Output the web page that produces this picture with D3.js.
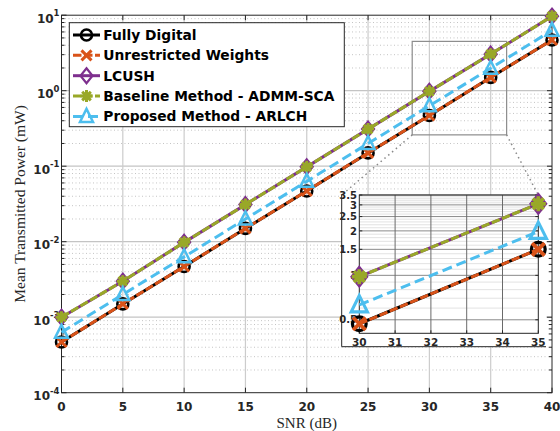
<!DOCTYPE html>
<html><head><meta charset="utf-8">
<script src="https://cdn.jsdelivr.net/npm/d3@7"></script>
<style>body{margin:0;background:#fff}svg{display:block}</style>
</head><body>
<script>
// ---------- data ----------
const snr = [0, 5, 10, 15, 20, 25, 30, 35, 40];
const fullyDigital = [0.00047, 0.0015, 0.0047, 0.015, 0.047, 0.15, 0.47, 1.5, 4.7];
const unrestricted = [0.00047, 0.0015, 0.0047, 0.015, 0.047, 0.15, 0.47, 1.5, 4.7];
const lcush = [0.001, 0.003, 0.0098, 0.031, 0.098, 0.31, 0.98, 3.05, 9.7];
const baselineAdmm = [0.001, 0.003, 0.0098, 0.031, 0.098, 0.31, 0.98, 3.05, 9.7];
const proposedArlch = [0.00063, 0.002, 0.0063, 0.02, 0.063, 0.2, 0.63, 1.98, 6.3];
const seriesNames = ["Fully Digital", "Unrestricted Weights", "LCUSH", "Baseline Method - ADMM-SCA", "Proposed Method - ARLCH"];
const xTicks = [0, 5, 10, 15, 20, 25, 30, 35, 40];
const yTickExps = [-4, -3, -2, -1, 0, 1];
const insetX = [30, 35];
const insetXTicks = [30, 31, 32, 33, 34, 35];
const insetYTicks = [0.5, 1, 1.5, 2, 2.5, 3, 3.5];
const insetYLabels = ["0.5", "1", "1.5", "2", "2.5", "3", "3.5"];
const zoomBoxX = [28.6, 36.3];
const zoomBoxY = [0.26, 4.5];

// ---------- styles ----------
const styles = [
  {color: "#000000", dash: null, marker: "circle"},
  {color: "#D95319", dash: "8.5,2.5", marker: "x"},
  {color: "#7E2F8E", dash: null, marker: "diamond"},
  {color: "#99A828", dash: "8.5,2.5", marker: "asterisk"},
  {color: "#4DBEEE", dash: "10,5", marker: "triangle"}
];
const seriesData = [fullyDigital, unrestricted, lcush, baselineAdmm, proposedArlch];

const W = 560, H = 431;
const svg = d3.select("body").append("svg").attr("width", W).attr("height", H);
const sans = "'DejaVu Sans', sans-serif";
const serif = "'Liberation Serif', 'Times New Roman', serif";
const axisColor = "#262626";

const x = d3.scaleLinear().domain([0, 40]).range([61.5, 552]);
const y = d3.scaleLog().domain([1e-4, 10]).range([392.7, 15.2]);

// ---------- grid ----------
const grid = svg.append("g");
for (let e = -4; e < 1; e++) {
  for (let k = 2; k <= 9; k++) {
    const v = k * Math.pow(10, e);
    grid.append("line").attr("x1", x(0)).attr("x2", x(40)).attr("y1", y(v)).attr("y2", y(v))
      .attr("stroke", "#c4c4c4").attr("stroke-width", 1).attr("stroke-dasharray", "1,2.5");
  }
}
yTickExps.slice(1, -1).forEach(e => {
  grid.append("line").attr("x1", x(0)).attr("x2", x(40)).attr("y1", y(Math.pow(10, e))).attr("y2", y(Math.pow(10, e)))
    .attr("stroke", "#c4c4c4").attr("stroke-width", 1.2);
});
xTicks.slice(1, -1).forEach(t => {
  grid.append("line").attr("x1", x(t)).attr("x2", x(t)).attr("y1", y(1e-4)).attr("y2", y(10))
    .attr("stroke", "#cccccc").attr("stroke-width", 1.2);
});

// ---------- zoom box ----------
svg.append("rect").attr("x", x(zoomBoxX[0])).attr("y", y(zoomBoxY[1]))
  .attr("width", x(zoomBoxX[1]) - x(zoomBoxX[0])).attr("height", y(zoomBoxY[0]) - y(zoomBoxY[1]))
  .attr("fill", "none").attr("stroke", "#8c8c8c").attr("stroke-width", 1.2);

// ---------- axes ----------
const ax = svg.append("g");
ax.append("rect").attr("x", x(0)).attr("y", y(10)).attr("width", x(40) - x(0)).attr("height", y(1e-4) - y(10))
  .attr("fill", "none").attr("stroke", axisColor).attr("stroke-width", 1);
xTicks.forEach(t => {
  ax.append("line").attr("x1", x(t)).attr("x2", x(t)).attr("y1", y(1e-4)).attr("y2", y(1e-4) - 5).attr("stroke", axisColor);
  ax.append("line").attr("x1", x(t)).attr("x2", x(t)).attr("y1", y(10)).attr("y2", y(10) + 5).attr("stroke", axisColor);
  ax.append("text").attr("x", x(t)).attr("y", 411).attr("text-anchor", "middle")
    .attr("font-family", sans).attr("font-weight", "bold").attr("font-size", 12).attr("fill", axisColor).text(t);
});
for (let e = -4; e < 1; e++) {
  for (let k = 2; k <= 9; k++) {
    const v = k * Math.pow(10, e);
    ax.append("line").attr("x1", x(0)).attr("x2", x(0) + 3).attr("y1", y(v)).attr("y2", y(v)).attr("stroke", axisColor);
    ax.append("line").attr("x1", x(40)).attr("x2", x(40) - 3).attr("y1", y(v)).attr("y2", y(v)).attr("stroke", axisColor);
  }
}
yTickExps.forEach(e => {
  const v = Math.pow(10, e);
  ax.append("line").attr("x1", x(0)).attr("x2", x(0) + 5).attr("y1", y(v)).attr("y2", y(v)).attr("stroke", axisColor);
  ax.append("line").attr("x1", x(40)).attr("x2", x(40) - 5).attr("y1", y(v)).attr("y2", y(v)).attr("stroke", axisColor);
  const t = ax.append("text").attr("x", 59.5).attr("y", y(v) + 7.7).attr("text-anchor", "end")
    .attr("font-family", sans).attr("font-weight", "bold").attr("fill", axisColor);
  t.append("tspan").attr("font-size", 12).text("10");
  t.append("tspan").attr("font-size", 8.5).attr("dy", -6.7).text(e < 0 ? "-" + (-e) : String(e));
});
svg.append("text").attr("x", x(20)).attr("y", 427.5).attr("text-anchor", "middle")
  .attr("font-family", serif).attr("font-size", 15).attr("fill", axisColor).text("SNR (dB)");
svg.append("text").attr("transform", `translate(24.5,${(y(1e-4) + y(10)) / 2}) rotate(-90)`)
  .attr("text-anchor", "middle").attr("font-family", serif).attr("font-size", 15.5).attr("fill", axisColor)
  .text("Mean Transmitted Power (mW)");

// ---------- markers ----------
function marker(g, type, cx, cy, color, s) {
  s = s || 1;
  const m = g.append("g").attr("transform", `translate(${cx},${cy}) scale(${s})`);
  if (type === "circle") {
    m.append("circle").attr("r", 5.5).attr("fill", "none").attr("stroke", color).attr("stroke-width", 2.6);
  } else if (type === "x") {
    m.append("path").attr("d", "M-5,-5L5,5M-5,5L5,-5").attr("stroke", color).attr("stroke-width", 3).attr("fill", "none");
  } else if (type === "diamond") {
    m.append("path").attr("d", "M0,-7.5L6,0L0,7.5L-6,0Z").attr("stroke", color).attr("stroke-width", 2.2).attr("fill", "none");
  } else if (type === "asterisk") {
    m.append("path").attr("d", "M-6,0L6,0M0,-6L0,6M-4.3,-4.3L4.3,4.3M-4.3,4.3L4.3,-4.3")
      .attr("stroke", color).attr("stroke-width", 3).attr("fill", "none");
    m.append("circle").attr("r", 3.5).attr("fill", color);
  } else if (type === "triangle") {
    m.append("path").attr("d", "M0,-7.5L6.5,5.5L-6.5,5.5Z").attr("stroke", color).attr("stroke-width", 2.5)
      .attr("fill", "none").attr("stroke-linejoin", "miter");
  }
}

function drawSeries(g, xs, xs_, ys_, ms) {
  seriesData.forEach((data, i) => {
    const st = styles[i];
    const pts = xs.map((xv, j) => [xv, data[j]]).filter(p => p[0] >= xs_.domain()[0] && p[0] <= xs_.domain()[1]);
    const line = d3.line().x(p => xs_(p[0])).y(p => ys_(p[1]));
    g.append("path").attr("d", line(pts)).attr("fill", "none").attr("stroke", st.color)
      .attr("stroke-width", 3).attr("stroke-dasharray", st.dash);
    pts.forEach(p => marker(g, st.marker, xs_(p[0]), ys_(p[1]), st.color, ms));
  });
}

drawSeries(svg.append("g"), snr, x, y, 1);

// ---------- legend ----------
const lg = svg.append("g");
lg.append("rect").attr("x", 69.3).attr("y", 22.7).attr("width", 275).attr("height", 104)
  .attr("fill", "#fff").attr("stroke", axisColor).attr("stroke-width", 1);
seriesNames.forEach((name, i) => {
  const cy = 35 + i * 20.35;
  const st = styles[i];
  lg.append("line").attr("x1", 73).attr("x2", 100).attr("y1", cy).attr("y2", cy)
    .attr("stroke", st.color).attr("stroke-width", 3).attr("stroke-dasharray", st.dash);
  marker(lg, st.marker, 86.5, cy, st.color, 1);
  lg.append("text").attr("x", 103.3).attr("y", cy + 5).attr("font-family", sans).attr("font-weight", "bold")
    .attr("font-size", 13.8).attr("fill", "#000").text(name);
});

// ---------- inset ----------
const xi = d3.scaleLinear().domain(insetX).range([359.3, 538.3]);
const yi = d3.scaleLog().domain([0.405, 3.5]).range([333.3, 195]);

svg.append("line").attr("x1", x(zoomBoxX[0])).attr("y1", y(zoomBoxY[0])).attr("x2", 341.7).attr("y2", 195)
  .attr("stroke", "#888").attr("stroke-width", 1.5).attr("stroke-dasharray", "1.5,3.5");
svg.append("line").attr("x1", x(zoomBoxX[1])).attr("y1", y(zoomBoxY[0])).attr("x2", 538.3).attr("y2", 195)
  .attr("stroke", "#888").attr("stroke-width", 1.5).attr("stroke-dasharray", "1.5,3.5");

const ig = svg.append("g");
ig.append("rect").attr("x", 341.7).attr("y", 195).attr("width", 204.5).attr("height", 151.7).attr("fill", "#fff");
ig.append("path").attr("d", "M341.7,195V346.7H546").attr("fill", "none").attr("stroke", axisColor).attr("stroke-width", 1);

for (let v = 0.5; v < 3.45; v += 0.1) {
  const vv = Math.round(v * 10) / 10;
  if (insetYTicks.includes(vv)) continue;
  ig.append("line").attr("x1", xi(30)).attr("x2", xi(35)).attr("y1", yi(vv)).attr("y2", yi(vv))
    .attr("stroke", "#e2e2e2").attr("stroke-width", 1);
}
insetYTicks.forEach(v => {
  ig.append("line").attr("x1", xi(30)).attr("x2", xi(35)).attr("y1", yi(v)).attr("y2", yi(v))
    .attr("stroke", "#8a8a8a").attr("stroke-width", 1);
});
insetXTicks.slice(1, -1).forEach(t => {
  ig.append("line").attr("x1", xi(t)).attr("x2", xi(t)).attr("y1", yi(0.405)).attr("y2", yi(3.5))
    .attr("stroke", "#6a6a6a").attr("stroke-width", 1);
});
ig.append("rect").attr("x", xi(30)).attr("y", yi(3.5)).attr("width", xi(35) - xi(30)).attr("height", yi(0.405) - yi(3.5))
  .attr("fill", "none").attr("stroke", axisColor).attr("stroke-width", 1);
insetXTicks.forEach(t => {
  ig.append("line").attr("x1", xi(t)).attr("x2", xi(t)).attr("y1", yi(0.405)).attr("y2", yi(0.405) - 3).attr("stroke", axisColor);
  ig.append("text").attr("x", xi(t)).attr("y", 346).attr("text-anchor", "middle").attr("font-family", sans)
    .attr("font-weight", "bold").attr("font-size", 10.5).attr("fill", axisColor).text(t);
});
insetYTicks.forEach((v, i) => {
  ig.append("line").attr("x1", xi(30)).attr("x2", xi(30) + 3).attr("y1", yi(v)).attr("y2", yi(v)).attr("stroke", axisColor);
  ig.append("line").attr("x1", xi(35)).attr("x2", xi(35) - 3).attr("y1", yi(v)).attr("y2", yi(v)).attr("stroke", axisColor);
  ig.append("text").attr("x", 357).attr("y", yi(v) + 3.7).attr("text-anchor", "end").attr("font-family", sans)
    .attr("font-weight", "bold").attr("font-size", 10).attr("fill", axisColor).text(insetYLabels[i]);
});
drawSeries(ig.append("g"), snr, xi, yi, 1.25);
</script>
</body></html>
